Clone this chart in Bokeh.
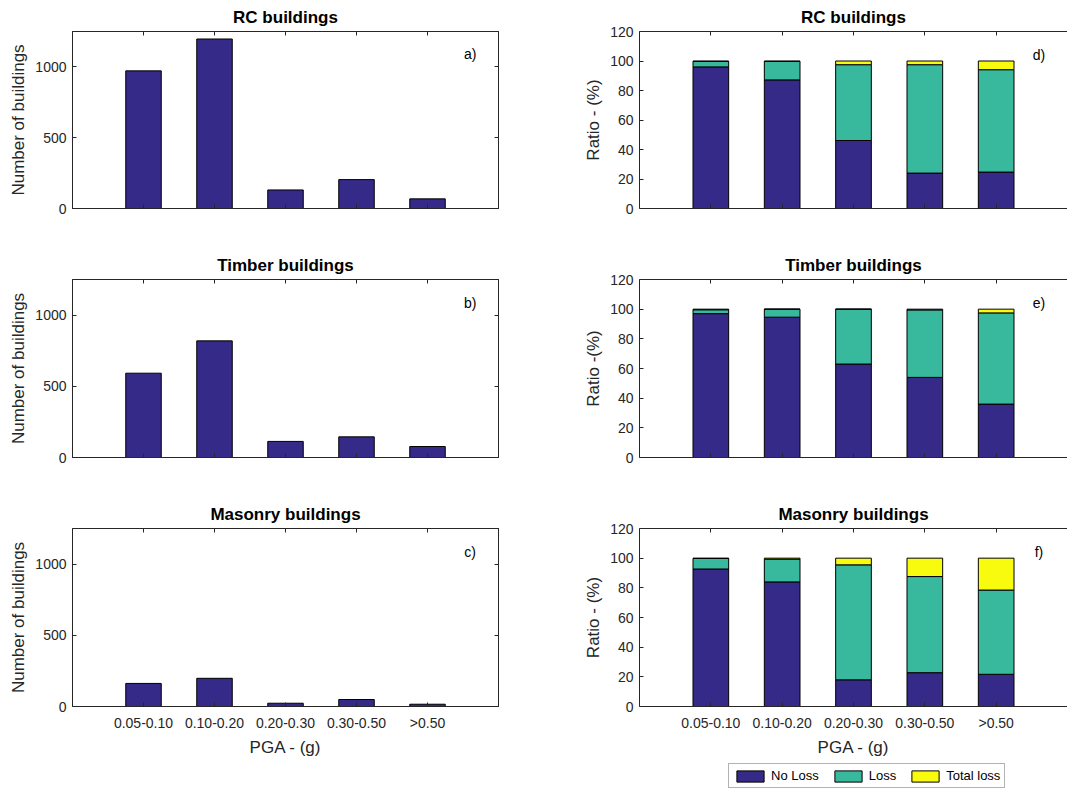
from bokeh.plotting import figure
from bokeh.models import (Range1d, FixedTicker, LinearAxis, Label, Legend, LegendItem,
                          ColumnDataSource, Spacer)
from bokeh.layouts import column, row
from bokeh.embed import file_html
from bokeh.resources import INLINE

# ---------------- data ----------------
categories = ["0.05-0.10", "0.10-0.20", "0.20-0.30", "0.30-0.50", ">0.50"]
x_pos = [1, 2, 3, 4, 5]

rc_counts = [972, 1197, 131, 204, 68]
timber_counts = [592, 819, 113, 145, 77]
masonry_counts = [162, 198, 23, 49, 16]

rc_no_loss = [96.0, 87.2, 46.1, 24.0, 24.7]
rc_loss = [3.7, 12.5, 51.4, 73.5, 69.4]
rc_total = [0.3, 0.3, 2.5, 2.5, 5.9]

timber_no_loss = [97.0, 94.6, 63.0, 54.0, 36.0]
timber_loss = [2.6, 5.4, 37.0, 45.5, 61.5]
timber_total = [0.4, 0.0, 0.0, 0.5, 2.5]

masonry_no_loss = [92.7, 84.0, 18.0, 22.8, 21.7]
masonry_loss = [7.1, 15.3, 77.5, 64.8, 56.8]
masonry_total = [0.2, 0.7, 4.5, 12.4, 21.5]

titles = ["RC buildings", "Timber buildings", "Masonry buildings"]
left_letters = ["a)", "b)", "c)"]
right_letters = ["d)", "e)", "f)"]
right_ylabels = ["Ratio - (%)", "Ratio -(%)", "Ratio - (%)"]
series_labels = ["No Loss", "Loss", "Total loss"]
count_ticks = [0, 500, 1000]
ratio_ticks = [0, 20, 40, 60, 80, 100, 120]

# ---------------- style ----------------
FONT = "Liberation Sans"
AX = "#262626"
BLUE = "#352a87"
TEAL = "#38b89d"
YELLOW = "#f9fb0e"
FILLS = [BLUE, TEAL, YELLOW]

row_heights = [245, 249, 265]
row_top = [31, 34, 34]
row_bottom = [37, 37, 53]


def style_axis(ax, ticks, show_labels):
    ax.ticker = FixedTicker(ticks=ticks)
    ax.major_tick_in = 4
    ax.major_tick_out = 0
    ax.minor_tick_line_color = None
    ax.axis_line_color = AX
    ax.major_tick_line_color = AX
    ax.major_label_text_font = FONT
    if show_labels:
        ax.major_label_text_color = AX
        ax.major_label_text_font_size = "14px"
        ax.major_label_standoff = 6
    else:
        ax.major_label_text_color = None
        ax.major_label_text_font_size = "1px"
        ax.major_label_standoff = 0
    ax.axis_label_text_font = FONT
    ax.axis_label_text_font_size = "17px"
    ax.axis_label_text_font_style = "normal"
    ax.axis_label_text_color = AX


def make_fig(col, r, ymax, yticks, ylabel):
    if col == 0:
        w, mbl, mbr = 540, 72, 42
    else:
        w, mbl, mbr = 527, 99, 0
    p = figure(width=w, height=row_heights[r], x_range=Range1d(0, 6), y_range=Range1d(0, ymax),
               output_backend="svg", toolbar_location=None,
               min_border_left=mbl, min_border_right=mbr,
               min_border_top=row_top[r], min_border_bottom=row_bottom[r])
    p.xgrid.visible = False
    p.ygrid.visible = False
    p.background_fill_color = "white"
    p.border_fill_color = "white"
    p.outline_line_color = AX if col == 0 else None
    p.title.text = titles[r]
    p.title.align = "center"
    p.title.text_font = FONT
    p.title.text_font_size = "17px"
    p.title.text_font_style = "bold"
    p.title.text_color = "black"
    p.title.standoff = 9
    p.title.offset = 0

    xa = p.xaxis[0]
    style_axis(xa, x_pos, r == 2)
    if r == 2:
        xa.major_label_overrides = {x: c for x, c in zip(x_pos, categories)}
        xa.major_label_standoff = 8
        xa.axis_label = "PGA - (g)"
        xa.axis_label_standoff = 4
    ya = p.yaxis[0]
    style_axis(ya, yticks, True)
    ya.axis_label = ylabel
    ya.axis_label_standoff = 4

    top = LinearAxis()
    style_axis(top, x_pos, False)
    p.add_layout(top, "above")
    if col == 0:
        rt = LinearAxis()
        style_axis(rt, yticks, False)
        p.add_layout(rt, "right")
    return p


def count_panel(r, counts):
    p = make_fig(0, r, 1250, count_ticks, "Number of buildings")
    src = ColumnDataSource(dict(x=x_pos, top=counts))
    p.vbar(x="x", top="top", width=0.5, source=src, fill_color=BLUE,
           line_color="black", line_width=1)
    p.add_layout(Label(x=5.6, y=1088, text=left_letters[r], text_align="center",
                       text_baseline="middle", text_font=FONT, text_font_size="14px",
                       text_color="black"))
    return p


def ratio_panel(r, nl, lo, tl):
    p = make_fig(1, r, 120, ratio_ticks, right_ylabels[r])
    src = ColumnDataSource(dict(x=x_pos, no_loss=nl, loss=lo, total=tl))
    p.vbar_stack(["no_loss", "loss", "total"], x="x", width=0.5, source=src,
                 fill_color=FILLS, line_color="black", line_width=1)
    p.add_layout(Label(x=5.6, y=104, text=right_letters[r], text_align="center",
                       text_baseline="middle", text_font=FONT, text_font_size="14px",
                       text_color="black"))
    return p


def legend_fig():
    p = figure(width=527, height=32, x_range=Range1d(0, 1), y_range=Range1d(0, 1),
               output_backend="svg", toolbar_location=None, title=None,
               x_axis_location=None, y_axis_location=None,
               min_border_left=0, min_border_right=0, min_border_top=0, min_border_bottom=0)
    p.xgrid.visible = False
    p.ygrid.visible = False
    p.outline_line_color = None
    p.border_fill_color = "white"
    # legend-only placeholder source: one undefined (NaN) entry, draws nothing in the frame
    placeholder = ColumnDataSource(dict(x=[float("nan")], top=[float("nan")]))
    items = []
    for lab, col in zip(series_labels, FILLS):
        rd = p.vbar(x="x", top="top", width=0.5, source=placeholder, fill_color=col,
                    line_color="black", line_width=1)
        items.append(LegendItem(label=lab, renderers=[rd], index=0))
    leg = Legend(items=items, orientation="horizontal", location=(188, 3),
                 glyph_width=34, glyph_height=14, label_height=14, label_standoff=4,
                 spacing=12, padding=4, margin=0,
                 label_text_font=FONT, label_text_font_size="13px", label_text_color="black",
                 border_line_color="#666666", border_line_width=1,
                 background_fill_color="white", background_fill_alpha=1)
    p.add_layout(leg, "center")
    return p


a = count_panel(0, rc_counts)
b = count_panel(1, timber_counts)
c = count_panel(2, masonry_counts)
d = ratio_panel(0, rc_no_loss, rc_loss, rc_total)
e = ratio_panel(1, timber_no_loss, timber_loss, timber_total)
f = ratio_panel(2, masonry_no_loss, masonry_loss, masonry_total)
lg = legend_fig()

layout = column(row(a, d), row(b, e), row(c, f), row(Spacer(width=540, height=32), lg))
open("out.html", "w").write(file_html(layout, INLINE))
